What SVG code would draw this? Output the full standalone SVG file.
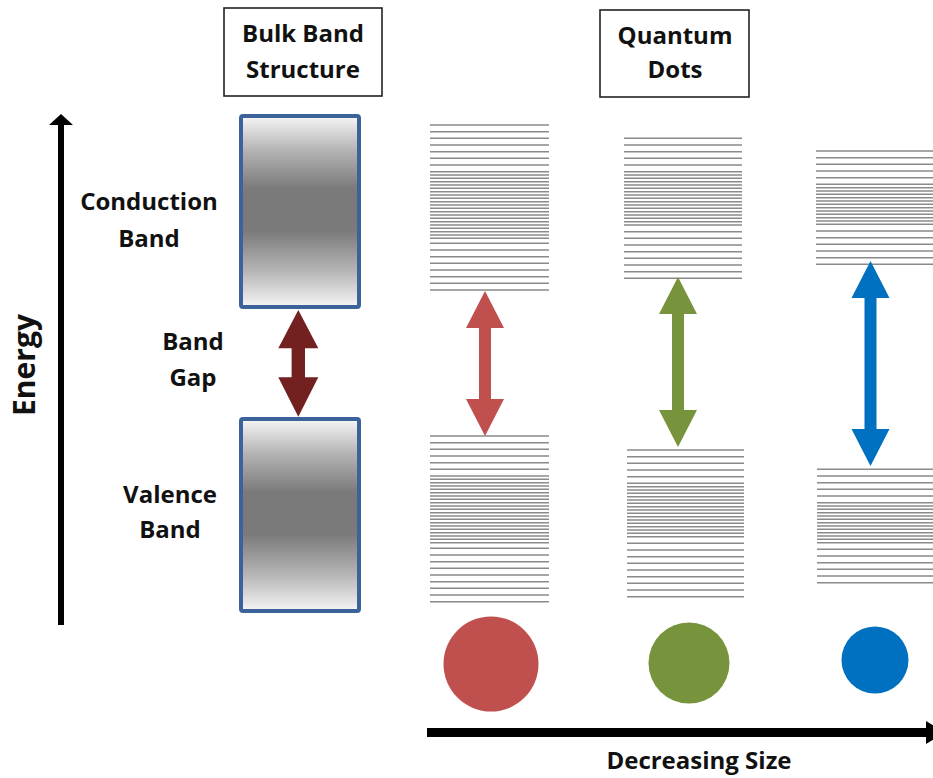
<svg xmlns="http://www.w3.org/2000/svg" width="933" height="778" viewBox="0 0 933 778">
<defs>
<style>
.t{font-family:"Open Sans","Liberation Sans",sans-serif;font-weight:700;font-size:24px;fill:#111;text-anchor:middle}
.lab{fill:#fff;stroke:#222;stroke-width:1.6}
.bulk{fill:url(#gr);stroke:#3c6399;stroke-width:4}
.lv{stroke:#8a8a8a;stroke-width:1.4;fill:none}
</style>
<linearGradient id="gr" x1="0" y1="0" x2="0" y2="1">
<stop offset="0" stop-color="#f6f6f6"/>
<stop offset="0.18" stop-color="#b4b4b4"/>
<stop offset="0.38" stop-color="#7a7a7a"/>
<stop offset="0.6" stop-color="#7a7a7a"/>
<stop offset="0.82" stop-color="#b8b8b8"/>
<stop offset="1" stop-color="#f6f6f6"/>
</linearGradient>
</defs>
<rect width="933" height="778" fill="#fff"/>

<g id="title-bulk">
<rect class="lab" x="224" y="8" width="158" height="88"/>
<text class="t" x="303" y="42">Bulk Band</text>
<text class="t" x="303" y="78">Structure</text>
</g>
<g id="title-qd">
<rect class="lab" x="600" y="10" width="149" height="87"/>
<text class="t" x="675" y="44">Quantum</text>
<text class="t" x="675" y="78">Dots</text>
</g>

<g id="energy-axis">
<path d="M58 625V125H49L61 114L73 125H64V625Z" fill="#000"/>
<text class="t" style="font-size:30px" transform="translate(35 365) rotate(-90)" x="0" y="0">Energy</text>
</g>

<g id="labels">
<text class="t" x="149" y="210">Conduction</text>
<text class="t" x="149" y="247">Band</text>
<text class="t" x="193" y="350">Band</text>
<text class="t" x="193" y="386">Gap</text>
<text class="t" x="170" y="503">Valence</text>
<text class="t" x="170" y="538">Band</text>
</g>

<g id="conduction-band">
<rect class="bulk" x="241" y="116" width="118" height="191" rx="2"/>
</g>
<g id="valence-band">
<rect class="bulk" x="241" y="419" width="118" height="192" rx="2"/>
</g>

<g id="qd-red-levels">
<path class="lv" d="M430 125H549M430 131.7H549M430 138.3H549M430 145H549M430 151.7H549M430 158.3H549M430 165H549M430 171.7H549M430 175H549M430 178.3H549M430 181.7H549M430 185H549M430 188.3H549M430 191.7H549M430 195H549M430 198.3H549M430 201.7H549M430 205H549M430 208.3H549M430 211.7H549M430 215H549M430 218.3H549M430 221.7H549M430 225H549M430 228.3H549M430 231.7H549M430 235H549M430 238.3H549M430 243.3H549M430 250H549M430 256.7H549M430 263.3H549M430 270H549M430 276.7H549M430 283.3H549M430 290H549"/>
<path class="lv" d="M430 436H549M430 442.7H549M430 449.3H549M430 456H549M430 462.7H549M430 469.3H549M430 476H549M430 479.3H549M430 482.7H549M430 486H549M430 489.3H549M430 492.7H549M430 496H549M430 499.3H549M430 502.7H549M430 506H549M430 509.3H549M430 512.7H549M430 516H549M430 519.3H549M430 522.7H549M430 526H549M430 529.3H549M430 532.7H549M430 536H549M430 539.3H549M430 542.7H549M430 548.3H549M430 555H549M430 561.7H549M430 568.3H549M430 575H549M430 581.7H549M430 588.3H549M430 595H549M430 601.7H549"/>
</g>
<g id="qd-green-levels">
<path class="lv" d="M624 138.3H742M624 145H742M624 151.7H742M624 158.3H742M624 165H742M624 171.7H742M624 175H742M624 178.3H742M624 181.7H742M624 185H742M624 188.3H742M624 191.7H742M624 195H742M624 198.3H742M624 201.7H742M624 205H742M624 208.3H742M624 211.7H742M624 215H742M624 218.3H742M624 221.7H742M624 225H742M624 231.7H742M624 238.3H742M624 245H742M624 251.7H742M624 258.3H742M624 265H742M624 271.7H742M624 278.3H742"/>
<path class="lv" d="M627 450H744M627 456.7H744M627 463.3H744M627 470H744M627 476.7H744M627 483.3H744M627 486.7H744M627 490H744M627 493.3H744M627 496.7H744M627 500H744M627 503.3H744M627 506.7H744M627 510H744M627 513.3H744M627 516.7H744M627 520H744M627 523.3H744M627 526.7H744M627 530H744M627 533.3H744M627 536.7H744M627 543.3H744M627 550H744M627 556.7H744M627 563.3H744M627 570H744M627 576.7H744M627 583.3H744M627 590H744M627 596.7H744"/>
</g>
<g id="qd-blue-levels">
<path class="lv" d="M816 151H933M816 157.7H933M816 164.3H933M816 171H933M816 177.7H933M816 184.3H933M816 187.7H933M816 191H933M816 194.3H933M816 197.7H933M816 201H933M816 204.3H933M816 207.7H933M816 211H933M816 214.3H933M816 217.7H933M816 221H933M816 224.3H933M816 231H933M816 237.7H933M816 244.3H933M816 251H933M816 257.7H933M816 264.3H933"/>
<path class="lv" d="M817 469.3H933M817 476H933M817 482.7H933M817 489.3H933M817 496H933M817 502.7H933M817 506H933M817 509.3H933M817 512.7H933M817 516H933M817 519.3H933M817 522.7H933M817 526H933M817 529.3H933M817 532.7H933M817 536H933M817 539.3H933M817 542.7H933M817 549.3H933M817 556H933M817 562.7H933M817 569.3H933M817 576H933M817 582.7H933"/>
</g>

<g id="dots">
<circle id="dot-red" cx="491" cy="664" r="47.5" fill="#c0504d"/>
<circle id="dot-green" cx="689" cy="663" r="40.5" fill="#77933c"/>
<circle id="dot-blue" cx="875" cy="660" r="33.5" fill="#0070c0"/>
</g>

<g id="connectors">
<path id="gap-bulk" d="M298.3 310L318.3 348.3H305V377.3H318.3L298.3 416.7L278.3 377.3H291.6V348.3H278.3Z" fill="#722020"/>
<path id="gap-red" d="M485 291L504 328H491V399H504L485 436L466 399H479V328H466Z" fill="#c0504d"/>
<path id="gap-green" d="M678 277L697 314H684V410H697L678 447L659 410H672V314H659Z" fill="#77933c"/>
<path id="gap-blue" d="M870.5 261L889.5 298H876.5V429H889.5L870.5 466L851.5 429H864.5V298H851.5Z" fill="#0070c0"/>
<path id="size-axis" d="M427 728H926V721L945 732.5L926 744V737H427Z" fill="#000"/>
</g>
<text class="t" x="699" y="769">Decreasing Size</text>
</svg>
